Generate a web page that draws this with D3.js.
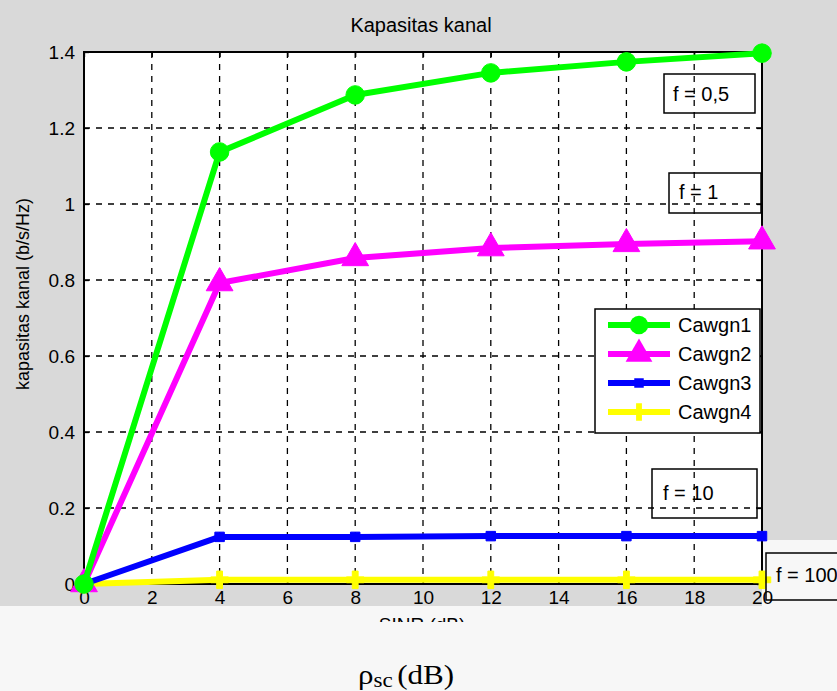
<!DOCTYPE html>
<html><head><meta charset="utf-8">
<script src="https://cdn.jsdelivr.net/npm/d3@7"></script>
<style>body{margin:0;background:#d9d9d9}svg{display:block}</style>
</head><body>
<svg id="chart" width="837" height="691"></svg>
<script>
const xValues = [0, 4, 8, 12, 16, 20];
const cawgn1 = [0, 1.137, 1.287, 1.345, 1.374, 1.397];
const cawgn2 = [0, 0.792, 0.858, 0.884, 0.895, 0.902];
const cawgn3 = [0, 0.124, 0.124, 0.126, 0.126, 0.126];
const cawgn4 = [0, 0.011, 0.011, 0.011, 0.011, 0.011];
const seriesNames = ["Cawgn1", "Cawgn2", "Cawgn3", "Cawgn4"];
const xTicks = [0, 2, 4, 6, 8, 10, 12, 14, 16, 18, 20];
const yTicks = [0, 0.2, 0.4, 0.6, 0.8, 1, 1.2, 1.4];
const annotations = ["f = 0,5", "f = 1", "f = 10", "f = 100"];

const svg = d3.select("#chart");
const W = 837, H = 691;
const L = 84, R = 762, T = 52, B = 584;
const x = d3.scaleLinear().domain([0, 20]).range([L, R]);
const y = d3.scaleLinear().domain([0, 1.4]).range([B, T]);
const SANS = "Liberation Sans, Arial, sans-serif";

// background
svg.append("rect").attr("width", W).attr("height", H).attr("fill", "#d9d9d9");
svg.append("rect").attr("x", 0).attr("y", 606).attr("width", W).attr("height", H - 606).attr("fill", "#f7f7f7");
svg.append("rect").attr("x", R).attr("y", 540).attr("width", W - R).attr("height", 70).attr("fill", "#f7f7f7");

// plot area
svg.append("rect").attr("x", L).attr("y", T).attr("width", R - L).attr("height", B - T).attr("fill", "#fff");

// grid
const g = svg.append("g");
g.selectAll(".vg").data(xTicks.slice(1, -1)).join("line")
  .attr("x1", d => x(d)).attr("x2", d => x(d)).attr("y1", T).attr("y2", B)
  .attr("stroke", "#000").attr("stroke-width", 1.3).attr("stroke-dasharray", "6,6");
g.selectAll(".hg").data(yTicks.slice(1, -1)).join("line")
  .attr("y1", d => y(d)).attr("y2", d => y(d)).attr("x1", L).attr("x2", R)
  .attr("stroke", "#000").attr("stroke-width", 1.3).attr("stroke-dasharray", "6,6");

// axes
const fmt = d => d === 0 ? "0" : String(d);
const axB = d3.axisBottom(x).tickValues(xTicks).tickSize(-5).tickPadding(7).tickFormat(fmt);
const axL = d3.axisLeft(y).tickValues(yTicks).tickSize(-5).tickPadding(9).tickFormat(fmt);
const axT = d3.axisTop(x).tickValues(xTicks).tickSize(-5).tickFormat("");
const axR = d3.axisRight(y).tickValues(yTicks).tickSize(-5).tickFormat("");
function style(sel) {
  sel.selectAll("path").remove();
  sel.selectAll("line").attr("stroke", "#000").attr("stroke-width", 1.3);
  sel.selectAll("text").attr("font-family", SANS).attr("font-size", 19).attr("fill", "#000");
}
svg.append("g").attr("transform", `translate(0,${B})`).call(axB).call(style);
svg.append("g").attr("transform", `translate(${L},0)`).call(axL).call(style);
svg.append("g").attr("transform", `translate(0,${T})`).call(axT).call(style);
svg.append("g").attr("transform", `translate(${R},0)`).call(axR).call(style);
svg.append("rect").attr("x", L).attr("y", T).attr("width", R - L).attr("height", B - T)
  .attr("fill", "none").attr("stroke", "#000").attr("stroke-width", 2);

// series
const series = [
  { name: seriesNames[0], vals: cawgn1, color: "#00ff00", sym: d3.symbolCircle, size: 270 },
  { name: seriesNames[1], vals: cawgn2, color: "#ff00ff", sym: d3.symbolTriangle, size: 310 },
  { name: seriesNames[2], vals: cawgn3, color: "#0000ff", sym: d3.symbolSquare, size: 90 },
  { name: seriesNames[3], vals: cawgn4, color: "#ffff00", sym: d3.symbolCross, size: 170 }
];
const line = d3.line().x(d => x(d[0])).y(d => y(d[1]));
const plot = svg.append("g");
series.slice().reverse().forEach(s => {
  const pts = xValues.map((xv, i) => [xv, s.vals[i]]);
  plot.append("path").attr("d", line(pts)).attr("fill", "none")
    .attr("stroke", s.color).attr("stroke-width", 6).attr("stroke-linejoin", "round");
  plot.selectAll(null).data(pts).join("path")
    .attr("transform", d => `translate(${x(d[0])},${y(d[1])})`)
    .attr("d", d3.symbol().type(s.sym).size(s.size)).attr("fill", s.color).attr("stroke", s.color);
});

// annotation boxes
const annBoxes = [
  [664, 74, 91, 39, 673, 101],
  [669, 173, 92, 40, 679, 199],
  [652, 469, 105, 49, 663, 500],
  [766, 553, 90, 47, 776, 582]
];
annBoxes.forEach((b, i) => {
  svg.append("rect").attr("x", b[0]).attr("y", b[1]).attr("width", b[2]).attr("height", b[3])
    .attr("fill", "none").attr("stroke", "#000").attr("stroke-width", 1.5);
  svg.append("text").attr("x", b[4]).attr("y", b[5]).text(annotations[i])
    .attr("font-family", SANS).attr("font-size", 20).attr("fill", "#000");
});

// legend
const lg = svg.append("g");
lg.append("rect").attr("x", 595).attr("y", 309).attr("width", 165).attr("height", 124)
  .attr("fill", "#fff").attr("stroke", "#000").attr("stroke-width", 1.5);
series.forEach((s, i) => {
  const yy = 325 + i * 29;
  lg.append("line").attr("x1", 608).attr("x2", 670).attr("y1", yy).attr("y2", yy)
    .attr("stroke", s.color).attr("stroke-width", 6);
  lg.append("path").attr("transform", `translate(639,${yy})`)
    .attr("d", d3.symbol().type(s.sym).size(s.size)).attr("fill", s.color);
  lg.append("text").attr("x", 678).attr("y", yy + 7).text(s.name)
    .attr("font-family", SANS).attr("font-size", 20).attr("fill", "#000");
});

// titles
svg.append("text").attr("x", 421).attr("y", 32).attr("text-anchor", "middle").text("Kapasitas kanal")
  .attr("font-family", SANS).attr("font-size", 20).attr("fill", "#000");
svg.append("text").attr("transform", "translate(29,294) rotate(-90)").attr("text-anchor", "middle")
  .text("kapasitas kanal (b/s/Hz)")
  .attr("font-family", SANS).attr("font-size", 18).attr("fill", "#000");
svg.append("text").attr("x", 422).attr("y", 631).attr("text-anchor", "middle").text("SINR (dB)")
  .attr("font-family", SANS).attr("font-size", 19).attr("fill", "#000");
svg.append("rect").attr("x", 360).attr("y", 622).attr("width", 130).attr("height", 20).attr("fill", "#f7f7f7");
const xl = svg.append("text").attr("transform", "translate(358,684) scale(1.15,1)")
  .attr("font-family", "Liberation Serif, Times New Roman, serif").attr("font-size", 27).attr("fill", "#000");
xl.append("tspan").text("ρ");
xl.append("tspan").attr("font-size", 20).attr("dy", 3).text("sc");
xl.append("tspan").attr("dy", -3).attr("dx", 4).text("(dB)");
</script>
</body></html>
